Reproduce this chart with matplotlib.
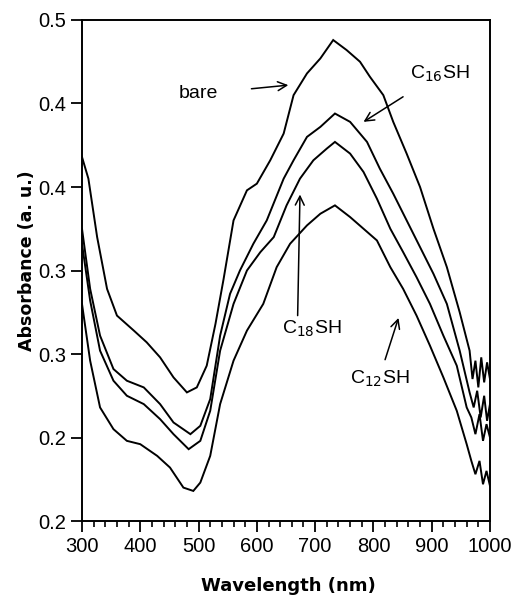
import matplotlib
matplotlib.use("Agg")
import matplotlib.pyplot as plt
from matplotlib.ticker import MultipleLocator, FixedLocator

plt.rcParams['font.family'] = ['Liberation Sans', 'DejaVu Sans']

# Wavelength (nm) / absorbance
bare_nm = [300, 311, 326, 343, 360, 389, 411, 434, 457, 480, 497, 514, 529, 543, 560, 583, 600, 623, 646, 663, 686, 709, 731, 754, 777, 794, 817, 834, 857, 880, 903, 926, 948, 965, 970, 975, 980, 985, 990, 995, 1000]
bare_A = [0.418, 0.405, 0.370, 0.339, 0.323, 0.314, 0.307, 0.298, 0.286, 0.277, 0.280, 0.293, 0.318, 0.345, 0.380, 0.398, 0.402, 0.416, 0.432, 0.455, 0.468, 0.477, 0.488, 0.482, 0.475, 0.466, 0.455, 0.439, 0.420, 0.400, 0.375, 0.352, 0.325, 0.302, 0.285, 0.296, 0.280, 0.298, 0.283, 0.295, 0.285]

c16_nm = [300, 314, 331, 354, 377, 406, 434, 457, 486, 503, 520, 537, 554, 571, 594, 617, 646, 663, 686, 709, 734, 760, 789, 811, 834, 857, 880, 903, 926, 948, 965, 972, 978, 984, 990, 995, 1000]
c16_A = [0.375, 0.339, 0.311, 0.291, 0.284, 0.280, 0.270, 0.259, 0.252, 0.257, 0.273, 0.311, 0.336, 0.350, 0.366, 0.380, 0.405, 0.416, 0.430, 0.436, 0.444, 0.439, 0.427, 0.411, 0.396, 0.380, 0.364, 0.348, 0.330, 0.302, 0.277, 0.268, 0.278, 0.262, 0.275, 0.260, 0.270]

c18_nm = [300, 314, 331, 354, 377, 406, 434, 457, 483, 503, 520, 537, 560, 583, 606, 629, 651, 674, 697, 720, 734, 760, 783, 806, 829, 851, 874, 897, 920, 943, 960, 968, 975, 982, 988, 994, 1000]
c18_A = [0.366, 0.332, 0.302, 0.284, 0.275, 0.270, 0.261, 0.252, 0.243, 0.248, 0.266, 0.302, 0.330, 0.350, 0.361, 0.370, 0.389, 0.405, 0.416, 0.423, 0.427, 0.420, 0.409, 0.393, 0.375, 0.361, 0.346, 0.330, 0.311, 0.293, 0.268, 0.262, 0.252, 0.264, 0.248, 0.258, 0.250]

c12_nm = [300, 314, 331, 354, 377, 400, 429, 451, 474, 491, 503, 520, 537, 560, 583, 611, 634, 657, 686, 709, 734, 760, 783, 806, 829, 851, 874, 897, 920, 943, 960, 968, 975, 982, 988, 994, 1000]
c12_A = [0.330, 0.296, 0.268, 0.255, 0.248, 0.246, 0.239, 0.232, 0.220, 0.218, 0.223, 0.239, 0.270, 0.296, 0.314, 0.330, 0.352, 0.366, 0.377, 0.384, 0.389, 0.382, 0.375, 0.368, 0.352, 0.339, 0.323, 0.305, 0.286, 0.266, 0.246, 0.236, 0.228, 0.236, 0.222, 0.230, 0.221]

series = [(bare_nm, bare_A), (c16_nm, c16_A), (c18_nm, c18_A), (c12_nm, c12_A)]

y_ticks = [0.20, 0.25, 0.30, 0.35, 0.40, 0.45, 0.50]
y_tick_labels = ['0.2', '0.2', '0.3', '0.3', '0.4', '0.4', '0.5']
x_ticks = [300, 400, 500, 600, 700, 800, 900, 1000]

fig = plt.figure(figsize=(5.14, 5.97), dpi=100)
ax = fig.add_axes([0.1595, 0.1273, 0.7938, 0.8392])

for x, y in series:
    ax.plot(x, y, color='black', lw=1.4, solid_joinstyle='miter')

ax.set_xlim(300, 1000)
ax.set_ylim(0.2, 0.5)
ax.xaxis.set_major_locator(FixedLocator(x_ticks))
ax.xaxis.set_minor_locator(MultipleLocator(20))
ax.set_yticks(y_ticks)
ax.set_yticklabels(y_tick_labels)
ax.tick_params(which='major', direction='out', length=8, width=1.3, labelsize=14.5, top=False, right=False)
ax.tick_params(which='minor', direction='out', length=4.5, width=1.2, top=False, right=False)
ax.tick_params(axis='y', which='minor', left=False)
for s in ax.spines.values():
    s.set_linewidth(1.4)

ax.set_xlabel('Wavelength (nm)', fontsize=13, fontweight='bold', family='DejaVu Sans')
ax.xaxis.set_label_coords(0.505, -0.112)
ax.set_ylabel('Absorbance (a. u.)', fontsize=12.5, fontweight='bold', family='DejaVu Sans')
ax.yaxis.set_label_coords(-0.113, 0.52)

ap = dict(arrowstyle='->', color='black', lw=1.1, mutation_scale=16)
ax.annotate('bare', xy=(654, 0.461), xytext=(500, 0.4557), fontsize=14,
            ha='center', va='center', arrowprops=dict(ap, shrinkA=22, shrinkB=0))
ax.annotate('C$_{16}$SH', xy=(783, 0.439), xytext=(914, 0.468), fontsize=14,
            ha='center', va='center', arrowprops=dict(ap, shrinkA=14, shrinkB=0))
ax.annotate('', xy=(674, 0.3955), xytext=(670, 0.323), arrowprops=dict(ap, shrinkA=0, shrinkB=0))
ax.text(694, 0.315, 'C$_{18}$SH', fontsize=14, ha='center', va='center')
ax.annotate('', xy=(843, 0.3216), xytext=(820, 0.2966), arrowprops=dict(ap, shrinkA=0, shrinkB=0))
ax.text(811, 0.285, 'C$_{12}$SH', fontsize=14, ha='center', va='center')

fig.savefig('out.png', dpi=100)
